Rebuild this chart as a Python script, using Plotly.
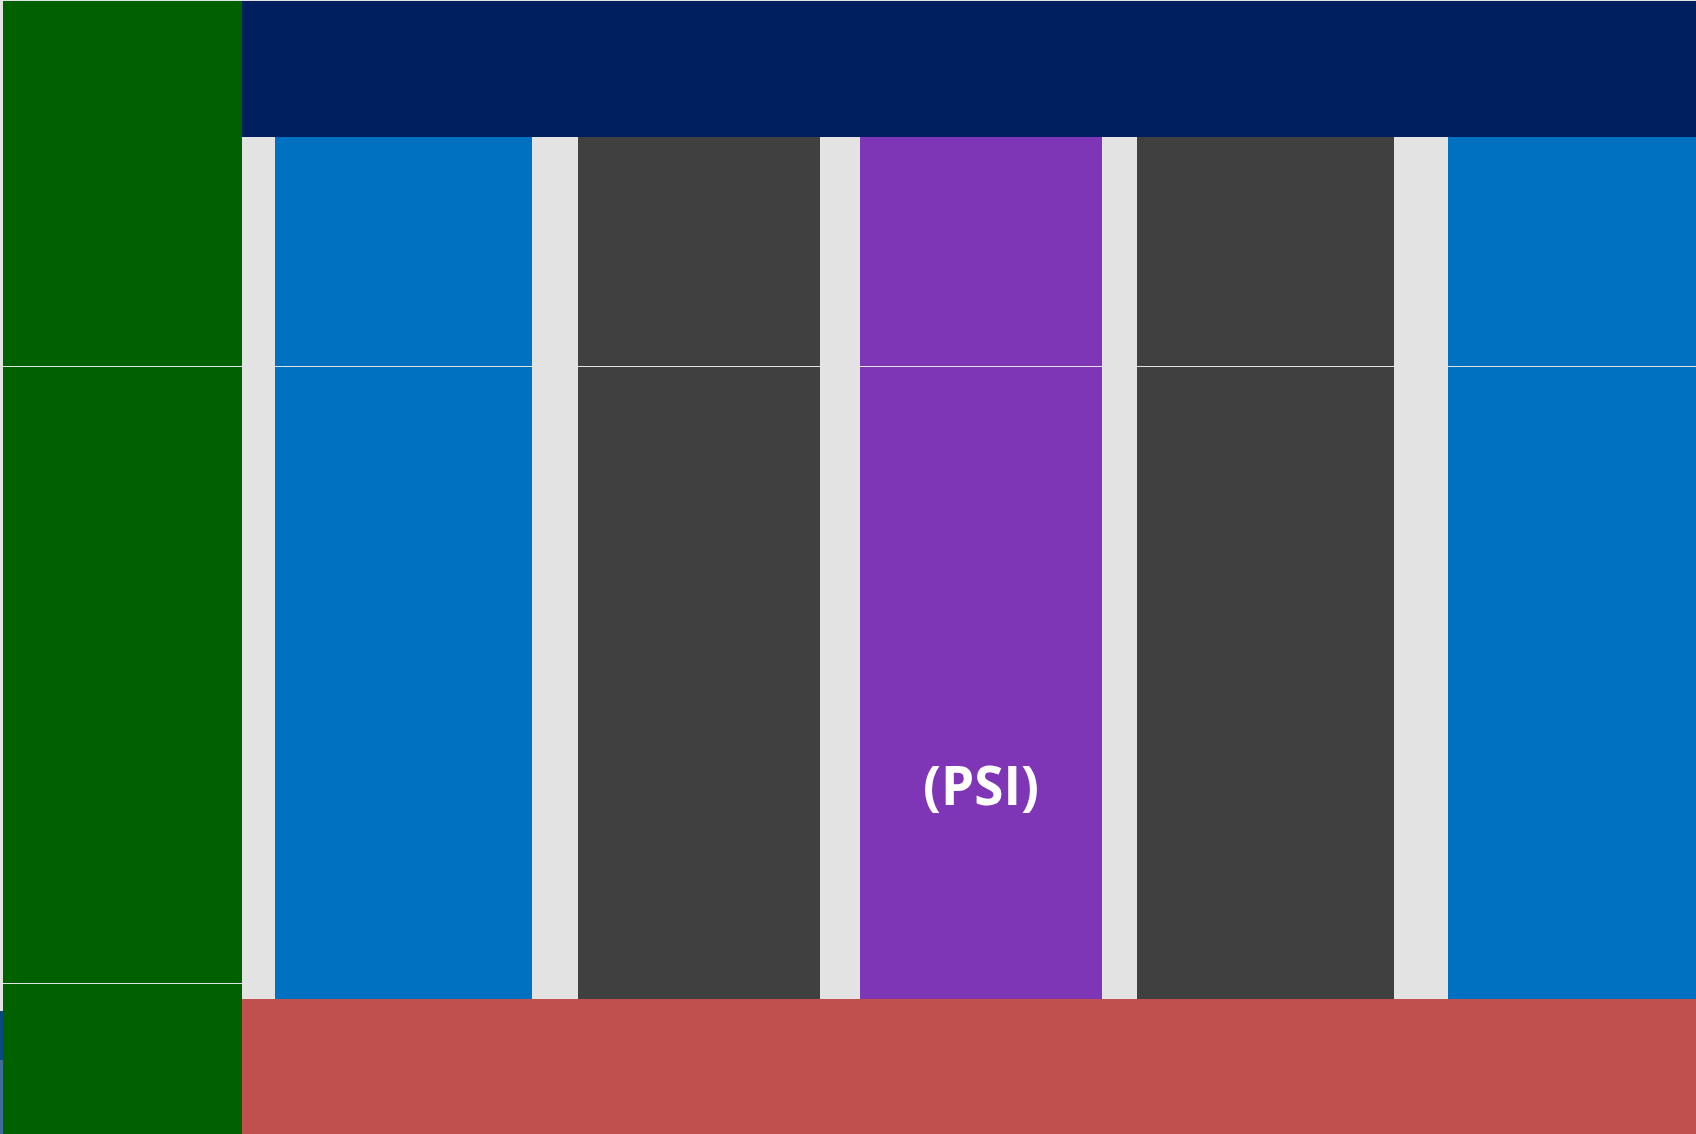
import plotly.graph_objects as go

# ---- diagram data (pixel-space layout units, y grows downward) ----
W, H = 1696, 1134

# vertical columns in the body of the diagram
col_names  = ["blue_left", "gray_left", "purple", "gray_right", "blue_right"]
col_left   = [275, 578, 860, 1137, 1448]
col_right  = [532, 820, 1102, 1394, 1696]
col_colors = ["#0070C0", "#404040", "#7F36B6", "#404040", "#0070C0"]
col_rows   = [(137, 366), (367, 999)]          # upper / lower segment of each column

# green side column (three stacked segments)
green_left, green_right = 3, 242
green_rows = [(1, 366), (367, 983), (984, 1134)]
green_color = "#006100"

# horizontal bands
band_names  = ["navy_top", "red_bottom"]
band_left   = [242, 242]
band_right  = [1696, 1696]
band_rows   = [(1, 137), (999, 1134)]
band_colors = ["#001F5F", "#C0504D"]

# thin strip at the far left edge
strip_left, strip_right = 0, 3
strip_rows   = [(1011, 1060), (1060, 1134)]
strip_colors = ["#0B4A80", "#3F6B98"]

label_text = "(PSI)"
label_pos  = (981, 784)

# ---- build bar lists ----
xs, ws, bases, hs, colors = [], [], [], [], []

def add(l, r, t, b, c):
    xs.append((l + r) / 2)
    ws.append(r - l)
    bases.append(t)
    hs.append(b - t)
    colors.append(c)

for t, b in green_rows:
    add(green_left, green_right, t, b, green_color)
for l, r, t_b, c in zip(band_left, band_right, band_rows, band_colors):
    add(l, r, t_b[0], t_b[1], c)
for l, r, c in zip(col_left, col_right, col_colors):
    for t, b in col_rows:
        add(l, r, t, b, c)
for (t, b), c in zip(strip_rows, strip_colors):
    add(strip_left, strip_right, t, b, c)

fig = go.Figure(go.Bar(
    x=xs, y=hs, base=bases, width=ws,
    marker=dict(color=colors, line=dict(width=0)),
    hoverinfo="skip", showlegend=False,
))

fig.add_annotation(
    x=label_pos[0], y=label_pos[1], text="<b>" + label_text + "</b>", showarrow=False,
    font=dict(family="Open Sans", size=53, color="white"),
    xanchor="center", yanchor="middle",
)

fig.update_layout(
    width=W, height=H,
    margin=dict(l=0, r=0, t=0, b=0, pad=0),
    paper_bgcolor="#E3E3E3", plot_bgcolor="#E3E3E3",
    barmode="overlay", bargap=0,
    xaxis=dict(range=[0, W], visible=False, fixedrange=True),
    yaxis=dict(range=[H, 0], visible=False, fixedrange=True),
)

fig.write_html(
    "out.html",
    config={"displayModeBar": False, "staticPlot": True},
    post_script="document.body.style.margin='0';document.body.style.overflow='hidden';",
)
